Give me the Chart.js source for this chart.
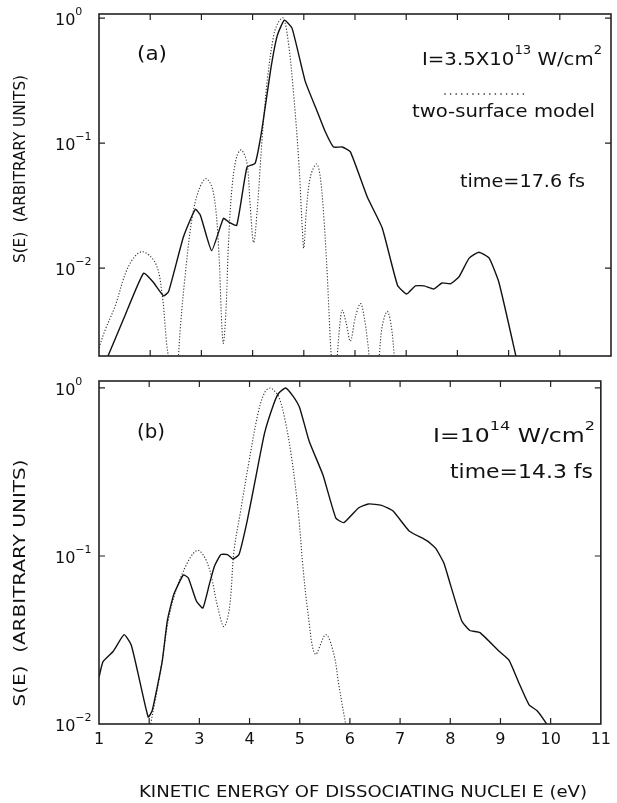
<!DOCTYPE html>
<html>
<head>
<meta charset="utf-8">
<script src="https://cdn.jsdelivr.net/npm/chart.js@4.4.1/dist/chart.umd.min.js"></script>
<style>
  body { margin: 0; background: #fff; }
  .box { position: absolute; left: 0; }
</style>
</head>
<body>
<div class="box" style="top:0"><canvas id="chartA" width="617" height="370"></canvas></div>
<div class="box" style="top:370px"><canvas id="chartB" width="617" height="433"></canvas></div>
<script>
// values: E in eV, S(E) in arbitrary units
const xTicks = [1, 2, 3, 4, 5, 6, 7, 8, 9, 10, 11];
const yDecades = [0.01, 0.1, 1];

// panel (a), full calculation (solid)
const aSolidE = [1.0, 1.18, 1.5, 1.87, 2.06, 2.26, 2.36, 2.65, 2.88, 2.98, 3.2, 3.43, 3.53, 3.69, 3.89, 4.05, 4.18, 4.35, 4.48, 4.62, 4.77, 5.03, 5.26, 5.42, 5.58, 5.75, 5.91, 6.24, 6.53, 6.83, 7.01, 7.18, 7.35, 7.54, 7.7, 7.87, 8.03, 8.23, 8.42, 8.62, 8.81, 9.14, 9.3];
const aSolidS = [0.00135, 0.002, 0.0041, 0.0091, 0.0077, 0.006, 0.0065, 0.0178, 0.0295, 0.0265, 0.0138, 0.025, 0.0234, 0.022, 0.064, 0.069, 0.127, 0.38, 0.72, 0.96, 0.83, 0.31, 0.18, 0.123, 0.093, 0.093, 0.085, 0.037, 0.021, 0.0073, 0.0062, 0.0072, 0.0072, 0.0068, 0.0076, 0.0075, 0.0085, 0.012, 0.0134, 0.012, 0.0077, 0.002, 0.001];

// panel (a), two-surface model (dotted); null = goes to zero
const aDotE = [1.0, 1.12, 1.31, 1.57, 1.83, 2.1, 2.23, 2.32, 2.36, 2.45, 2.55, 2.59, 2.68, 2.81, 2.94, 3.09, 3.23, 3.33, 3.4, 3.43, 3.48, 3.53, 3.6, 3.69, 3.78, 3.89, 3.95, 4.02, 4.09, 4.18, 4.28, 4.41, 4.5, 4.6, 4.7, 4.8, 4.9, 4.97, 5.0, 5.05, 5.13, 5.25, 5.32, 5.39, 5.46, 5.52, 5.54, 5.6, 5.65, 5.7, 5.75, 5.83, 5.91, 6.01, 6.11, 6.19, 6.25, 6.28, 6.38, 6.47, 6.53, 6.63, 6.71, 6.77];
const aDotS = [0.0023, 0.0032, 0.0049, 0.0102, 0.0135, 0.011, 0.0063, 0.0025, 0.0019, null, 0.0019, 0.0034, 0.0085, 0.024, 0.041, 0.052, 0.041, 0.016, 0.0034, 0.0025, 0.0046, 0.016, 0.045, 0.078, 0.088, 0.069, 0.033, 0.016, 0.029, 0.1, 0.30, 0.72, 0.92, 1.0, 0.63, 0.25, 0.073, 0.021, 0.0144, 0.029, 0.054, 0.068, 0.054, 0.026, 0.0085, 0.0025, 0.0019, null, 0.0019, 0.0034, 0.0046, 0.0036, 0.0026, 0.0041, 0.0052, 0.0038, 0.0025, 0.0019, null, 0.0019, 0.0034, 0.0045, 0.0034, 0.0019];

// panel (b)
const bSolidE = [1.0, 1.08, 1.28, 1.5, 1.64, 1.77, 1.98, 2.06, 2.26, 2.36, 2.49, 2.68, 2.78, 2.94, 3.07, 3.2, 3.3, 3.43, 3.56, 3.67, 3.79, 3.95, 4.12, 4.3, 4.48, 4.58, 4.72, 4.87, 5.0, 5.19, 5.46, 5.72, 5.88, 6.17, 6.37, 6.63, 6.86, 7.18, 7.54, 7.71, 7.87, 8.0, 8.23, 8.39, 8.59, 8.98, 9.17, 9.37, 9.57, 9.73, 9.92, 10.05];
const bSolidS = [0.019, 0.0235, 0.027, 0.034, 0.0296, 0.0205, 0.011, 0.012, 0.0236, 0.041, 0.059, 0.077, 0.074, 0.054, 0.049, 0.068, 0.087, 0.102, 0.102, 0.096, 0.102, 0.16, 0.29, 0.54, 0.8, 0.93, 1.0, 0.89, 0.76, 0.48, 0.305, 0.168, 0.158, 0.193, 0.204, 0.20, 0.185, 0.141, 0.123, 0.111, 0.091, 0.068, 0.041, 0.036, 0.035, 0.027, 0.024, 0.0175, 0.013, 0.012, 0.01, 0.0085];

const bDotE = [2.0, 2.03, 2.13, 2.23, 2.42, 2.68, 2.96, 3.17, 3.37, 3.49, 3.6, 3.69, 3.82, 3.99, 4.18, 4.31, 4.41, 4.48, 4.58, 4.7, 4.83, 4.97, 5.06, 5.16, 5.31, 5.52, 5.68, 5.78, 5.92, 5.96];
const bDotS = [0.0085, 0.0100, 0.0143, 0.021, 0.047, 0.081, 0.108, 0.089, 0.049, 0.038, 0.049, 0.107, 0.184, 0.366, 0.73, 0.95, 1.0, 0.97, 0.89, 0.66, 0.4, 0.185, 0.089, 0.047, 0.026, 0.034, 0.026, 0.017, 0.0098, 0.0085];

const fontFam = '"DejaVu Sans", sans-serif';
const yTitle = 'S(E)  (ARBITRARY UNITS)';
const xTitle = 'KINETIC ENERGY OF DISSOCIATING NUCLEI E (eV)';

function toPoints(xs, ys) {
    return xs.map((x, i) => ({x: x, y: ys[i]}));
}

// text made of normal and superscript parts, stretched to a given width
function drawParts(ctx, parts, x, base, w, size) {
    const supSize = Math.round(size * 0.68);
    const rise = Math.round(size * 0.62);
    let total = 0;
    parts.forEach(p => {
        ctx.font = (p[1] ? supSize : size) + 'px ' + fontFam;
        total += ctx.measureText(p[0]).width;
    });
    const s = w ? w / total : 1;
    ctx.save();
    ctx.translate(x, base);
    ctx.scale(s, 1);
    ctx.textAlign = 'left';
    ctx.textBaseline = 'alphabetic';
    let cx = 0;
    parts.forEach(p => {
        ctx.font = (p[1] ? supSize : size) + 'px ' + fontFam;
        ctx.fillText(p[0], cx, p[1] ? -rise : 0);
        cx += ctx.measureText(p[0]).width;
    });
    ctx.restore();
}

const framePlugin = {
    id: 'frame',
    afterDatasetsDraw(chart, args, o) {
        const {ctx, chartArea: a} = chart;
        const x = chart.scales.x, y = chart.scales.y;
        ctx.save();
        ctx.fillStyle = '#111';
        ctx.strokeStyle = '#222';
        ctx.lineWidth = 1.6;
        ctx.strokeRect(a.left, a.top, a.right - a.left, a.bottom - a.top);

        // inward ticks
        ctx.lineWidth = 1.2;
        ctx.beginPath();
        xTicks.forEach(v => {
            if (v <= x.min || v >= x.max) return;
            const px = x.getPixelForValue(v);
            ctx.moveTo(px, a.top); ctx.lineTo(px, a.top + 6);
            ctx.moveTo(px, a.bottom); ctx.lineTo(px, a.bottom - 6);
        });
        yDecades.forEach(v => {
            if (v <= y.min * 1.001 || v >= y.max) return;
            const py = y.getPixelForValue(v);
            ctx.moveTo(a.left, py); ctx.lineTo(a.left + 6, py);
            ctx.moveTo(a.right, py); ctx.lineTo(a.right - 6, py);
        });
        ctx.stroke();

        // decade labels 10^n
        yDecades.forEach(v => {
            if (v < y.min * 0.999 || v > y.max) return;
            const py = y.getPixelForValue(v);
            const n = Math.round(Math.log10(v));
            const exp = n < 0 ? '\u2212' + (-n) : String(n);
            drawParts(ctx, [['10', 0], [exp, 1]], o.yLabelX, py + 7, null, 16);
        });

        // rotated y title
        ctx.save();
        ctx.font = '15px ' + fontFam;
        const tw = ctx.measureText(yTitle).width;
        ctx.translate(o.yTitle.x, o.yTitle.y);
        ctx.rotate(-Math.PI / 2);
        ctx.scale(o.yTitle.w / tw, 1);
        ctx.textAlign = 'center';
        ctx.textBaseline = 'middle';
        ctx.fillText(yTitle, 0, 0);
        ctx.restore();

        o.notes.forEach(n => drawParts(ctx, n.parts, n.x, n.base, n.w, n.size));

        if (o.dots) {
            for (let px = o.dots.x0; px <= o.dots.x1; px += 5.6) {
                ctx.beginPath();
                ctx.arc(px, o.dots.y, 0.8, 0, Math.PI * 2);
                ctx.fill();
            }
        }
        if (o.xTitle) {
            drawParts(ctx, [[xTitle, 0]], o.xTitle.x, o.xTitle.base, o.xTitle.w, 16);
        }
        ctx.restore();
    }
};

function makeChart(id, solid, dotted, yMin, yMax, pad, frame, showX) {
    return new Chart(document.getElementById(id), {
        type: 'line',
        data: {
            datasets: [{
                data: solid,
                borderColor: '#111',
                borderWidth: 1.4,
                pointRadius: 0,
                tension: 0.15,
                fill: false
            }, {
                data: dotted,
                borderColor: '#333',
                borderWidth: 1.1,
                borderDash: [1.2, 1.8],
                pointRadius: 0,
                tension: 0.35,
                fill: false
            }]
        },
        options: {
            responsive: false,
            animation: false,
            devicePixelRatio: 1,
            layout: {padding: pad},
            plugins: {legend: {display: false}, tooltip: {enabled: false}, frame: frame},
            scales: {
                x: {
                    type: 'linear', min: 1, max: 11, display: showX,
                    afterBuildTicks: s => { s.ticks = xTicks.map(v => ({value: v})); },
                    afterFit: s => { if (showX) s.height = 79; },
                    ticks: {color: '#111', font: {family: fontFam, size: 16}, padding: 6, maxRotation: 0, autoSkip: false},
                    grid: {display: false, drawTicks: false},
                    border: {display: false}
                },
                y: {type: 'logarithmic', min: yMin, max: yMax, display: false}
            }
        },
        plugins: [framePlugin]
    });
}

makeChart('chartA', toPoints(aSolidE, aSolidS), toPoints(aDotE, aDotS), 0.00198, 1.077,
    {left: 99, right: 6, top: 14, bottom: 14},
    {
        yLabelX: 55,
        yTitle: {x: 21, y: 169, w: 188},
        notes: [
            {parts: [['(a)', 0]], x: 137, base: 60, w: 30, size: 20},
            {parts: [['I=3.5X10', 0], ['13', 1], [' W/cm', 0], ['2', 1]], x: 422, base: 65, w: 180, size: 18},
            {parts: [['two-surface model', 0]], x: 412, base: 117, w: 183, size: 18},
            {parts: [['time=17.6 fs', 0]], x: 460, base: 187, w: 125, size: 18}
        ],
        dots: {x0: 445, x1: 525, y: 94},
        xTitle: null
    }, false);

makeChart('chartB', toPoints(bSolidE, bSolidS), toPoints(bDotE, bDotS), 0.01, 1.10,
    {left: 99, right: 6, top: 11, bottom: 0},
    {
        yLabelX: 55,
        yTitle: {x: 21, y: 213, w: 247},
        notes: [
            {parts: [['(b)', 0]], x: 137, base: 68, w: 28, size: 20},
            {parts: [['I=10', 0], ['14', 1], [' W/cm', 0], ['2', 1]], x: 433, base: 72, w: 162, size: 19},
            {parts: [['time=14.3 fs', 0]], x: 450, base: 108, w: 143, size: 19}
        ],
        dots: null,
        xTitle: {x: 139, base: 427, w: 448}
    }, true);
</script>
</body>
</html>
